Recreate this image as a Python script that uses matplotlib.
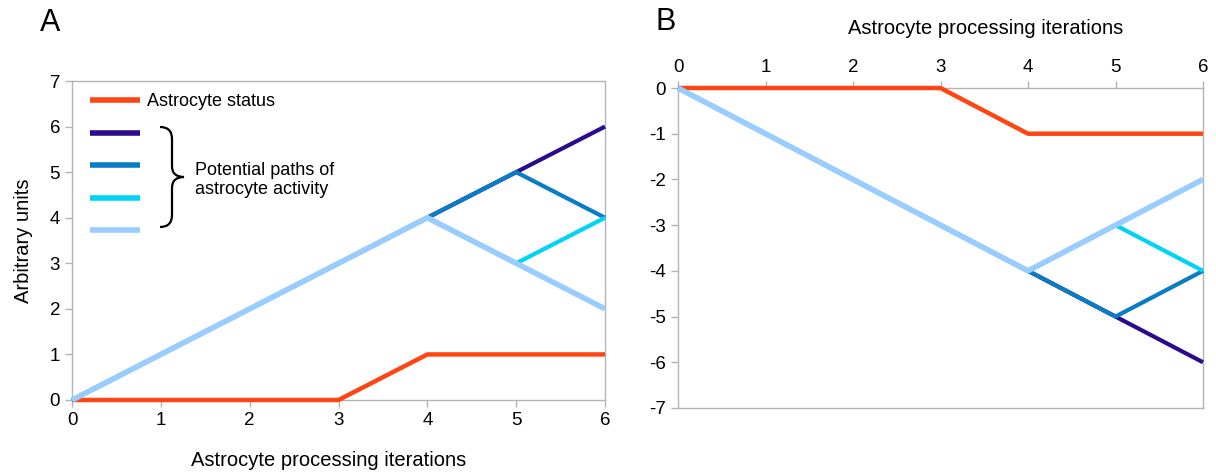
import numpy as np
import matplotlib
matplotlib.use("Agg")
import matplotlib.pyplot as plt
from matplotlib.path import Path
from matplotlib.patches import PathPatch
from matplotlib.lines import Line2D

plt.rcParams["font.family"] = ["Liberation Sans", "DejaVu Sans"]
plt.rcParams["axes.unicode_minus"] = False

iterations = [0, 1, 2, 3, 4, 5, 6]
status = [0, 0, 0, 0, 1, 1, 1]
path_dark = [0, 1, 2, 3, 4, 5, 6]
path_mid = [0, 1, 2, 3, 4, 5, 4]
path_cyan = [0, 1, 2, 3, 4, 3, 4]
path_light = [0, 1, 2, 3, 4, 3, 2]

STATUS_COLOR = "#ff4513"
PATH_COLORS = ["#2b0a8f", "#0a7cc6", "#00d4f5", "#99ccff"]
PATHS = [path_dark, path_mid, path_cyan, path_light]
SPINE = "#b3b3b3"

W, H = 1216, 474
fig = plt.figure(figsize=(W / 100, H / 100), dpi=100)
fig.patch.set_facecolor("white")


def px(x, y):
    return (x / W, 1 - y / H)


def style_axes(ax):
    for s in ax.spines.values():
        s.set_color(SPINE)
        s.set_linewidth(1.0)
    ax.tick_params(colors=SPINE, labelcolor="black", labelsize=13.5, length=5, width=1)


def draw(ax, sign):
    ax.plot(iterations, [sign * v for v in status], color=STATUS_COLOR, lw=3.2,
            solid_capstyle="butt", zorder=3, clip_on=False)
    for vals, c in zip(PATHS, PATH_COLORS):
        lw = 4.0 if c == "#99ccff" else 3.0
        ax.plot(iterations, [sign * v for v in vals], color=c, lw=lw,
                solid_capstyle="butt", zorder=4, clip_on=False)
    ax.set_xlim(0, 6)
    ax.set_xticks(iterations)


# Panel A
axA = fig.add_axes([72 / W, 1 - 400 / H, (605 - 72) / W, (400 - 81) / H])
draw(axA, 1)
axA.set_ylim(0, 7)
axA.set_yticks(range(0, 8))
style_axes(axA)
fig.text(*px(329, 461), "Astrocyte processing iterations", fontsize=14.5,
         ha="center", va="center")
axA.set_ylabel("Arbitrary units", fontsize=14.5, labelpad=12)

handles = [Line2D([], [], color=STATUS_COLOR, lw=4, solid_capstyle="butt")] + \
          [Line2D([], [], color=c, lw=4, solid_capstyle="butt") for c in PATH_COLORS]
labels = ["Astrocyte status", "", "", "", ""]
axA.legend(handles, labels, loc="upper left", bbox_to_anchor=(0.004, 1.012),
           frameon=False, fontsize=13, handlelength=2.75, labelspacing=0.86,
           handletextpad=0.4)

verts = [px(160, 127), px(172, 127), px(172, 139), px(172, 166),
         px(172, 177), px(184, 177), px(172, 177), px(172, 188),
         px(172, 215), px(172, 227), px(160, 227)]
codes = [Path.MOVETO, Path.CURVE3, Path.CURVE3, Path.LINETO,
         Path.CURVE3, Path.CURVE3, Path.CURVE3, Path.CURVE3,
         Path.LINETO, Path.CURVE3, Path.CURVE3]
fig.add_artist(PathPatch(Path(verts, codes), fc="none", ec="black", lw=1.6,
                         transform=fig.transFigure))
fig.text(*px(195, 180), "Potential paths of\nastrocyte activity", fontsize=13,
         va="center", ha="left", linespacing=1.2)
fig.text(*px(40, 23), "A", fontsize=22, va="center", ha="left")

# Panel B
axB = fig.add_axes([678 / W, 1 - 408 / H, (1203 - 678) / W, (408 - 88) / H])
draw(axB, -1)
axB.set_ylim(-7, 0)
axB.set_yticks(range(-7, 1))
axB.xaxis.tick_top()
style_axes(axB)
fig.text(*px(986, 29), "Astrocyte processing iterations", fontsize=14.5,
         ha="center", va="center")
fig.text(*px(655, 22), "B", fontsize=22, va="center", ha="left")

fig.savefig("out.png", dpi=100, facecolor="white")
